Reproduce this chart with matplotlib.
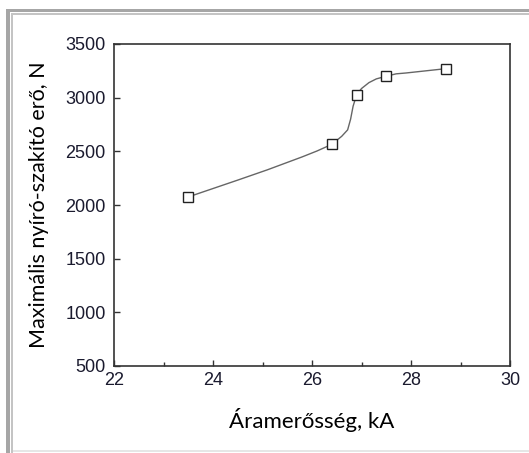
import matplotlib
matplotlib.use('Agg')
import matplotlib.pyplot as plt
from matplotlib.patches import Rectangle
from matplotlib.ticker import MultipleLocator

# Measured points (current vs. max shear-tension force)
current_ka = [23.5, 26.4, 26.9, 27.5, 28.7]
force_n = [2075, 2565, 3025, 3200, 3270]

# Smoothed trend curve
curve_x = [23.5, 24.5, 25.1, 25.8, 26.1, 26.4, 26.6, 26.72, 26.78, 26.83, 26.9,
           27.0, 27.15, 27.3, 27.5, 27.7, 27.9, 28.3, 28.7]
curve_y = [2075, 2232, 2328, 2448, 2503, 2565, 2640, 2700, 2800, 2920, 3025,
           3085, 3140, 3175, 3200, 3222, 3230, 3250, 3270]

W, H = 529, 453
fig = plt.figure(figsize=(W / 100, H / 100), dpi=100)
fig.patch.set_facecolor('white')

# gray text-box frame (left and top, cropped at right/bottom)
def px_rect(x0, y0, x1, y1, color):
    fig.add_artist(Rectangle((x0 / W, 1 - y1 / H), (x1 - x0) / W, (y1 - y0) / H,
                             transform=fig.transFigure, facecolor=color,
                             edgecolor='none', zorder=0))

px_rect(6, 9, W, 12, '#a6a6a6')
px_rect(11, 13, W, 15, '#c4c4c4')
px_rect(6, 9, 10, H, '#a6a6a6')
px_rect(11, 13, 13, H, '#c4c4c4')
px_rect(13, 450, W, 452, '#e6e6e6')

ax = fig.add_axes([114 / W, 1 - 366 / H, (510 - 114) / W, (366 - 44) / H])

ax.plot(curve_x, curve_y, color='#666666', lw=1.0, zorder=2)
ax.plot(current_ka, force_n, linestyle='none', marker='s', markersize=7,
        markerfacecolor='white', markeredgecolor='#222222', markeredgewidth=1.0,
        zorder=3)

ax.set_xlim(22, 30)
ax.set_ylim(500, 3500)
ax.xaxis.set_major_locator(MultipleLocator(2))
ax.xaxis.set_minor_locator(MultipleLocator(1))
ax.yaxis.set_major_locator(MultipleLocator(500))

ax.tick_params(which='both', direction='in', colors='#333333', labelcolor='#1a1a2e',
               top=False, right=False)
ax.tick_params(which='major', length=4, width=1, labelsize=13)
ax.tick_params(which='minor', length=3, width=1)
ax.tick_params(axis='x', pad=4)
ax.tick_params(axis='y', pad=6)
for lbl in ax.get_xticklabels() + ax.get_yticklabels():
    lbl.set_fontfamily('Liberation Sans')

for s in ax.spines.values():
    s.set_color('#333333')
    s.set_linewidth(1.2)

ax.set_xlabel('Áramerősség, kA', fontfamily='Lato', fontsize=16, labelpad=14)
ax.set_ylabel('Maximális nyíró-szakító erő, N', fontfamily='Lato', fontsize=15.5,
              labelpad=12)

fig.savefig('out.png', dpi=100)
